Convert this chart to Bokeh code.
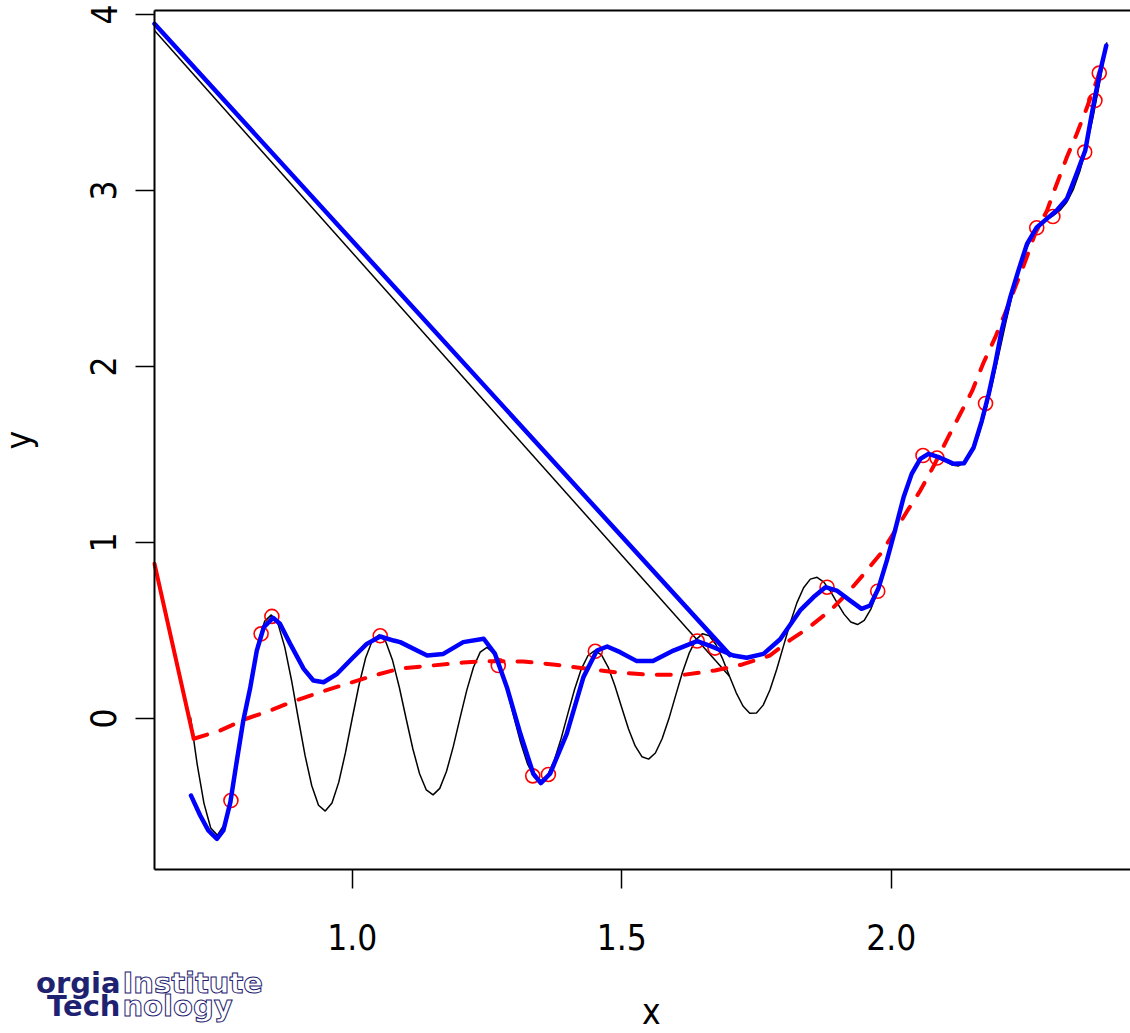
from bokeh.plotting import figure
from bokeh.models import FixedTicker, Label, LinearAxis
from bokeh.embed import file_html
from bokeh.resources import INLINE
import math

# ---------------- data ----------------
x_ticks = [1.0, 1.5, 2.0]
x_tick_labels = ["1.0", "1.5", "2.0"]
y_ticks = [0, 1, 2, 3, 4]
y_tick_labels = ["0", "1", "2", "3", "4"]

# true function (thin black curve)
black_x = [
    0.7000, 0.7125, 0.7250, 0.7375, 0.7500, 0.7625, 0.7750, 0.7875,
    0.8000, 0.8125, 0.8250, 0.8375, 0.8500, 0.8625, 0.8750, 0.8875,
    0.9000, 0.9125, 0.9250, 0.9375, 0.9500, 0.9625, 0.9750, 0.9875,
    1.0000, 1.0125, 1.0250, 1.0375, 1.0500, 1.0625, 1.0750, 1.0875,
    1.1000, 1.1125, 1.1250, 1.1375, 1.1500, 1.1625, 1.1750, 1.1875,
    1.2000, 1.2125, 1.2250, 1.2375, 1.2500, 1.2625, 1.2750, 1.2875,
    1.3000, 1.3125, 1.3250, 1.3375, 1.3500, 1.3625, 1.3750, 1.3875,
    1.4000, 1.4125, 1.4250, 1.4375, 1.4500, 1.4625, 1.4750, 1.4875,
    1.5000, 1.5125, 1.5250, 1.5375, 1.5500, 1.5625, 1.5750, 1.5875,
    1.6000, 1.6125, 1.6250, 1.6375, 1.6500, 1.6625, 1.6750, 1.6875,
    1.7000, 1.7125, 1.7250, 1.7375, 1.7500, 1.7625, 1.7750, 1.7875,
    1.8000, 1.8125, 1.8250, 1.8375, 1.8500, 1.8625, 1.8750, 1.8875,
    1.9000, 1.9125, 1.9250, 1.9375, 1.9500, 1.9625, 1.9750, 1.9875,
    2.0000, 2.0125, 2.0250, 2.0375, 2.0500, 2.0625, 2.0750, 2.0875,
    2.1000, 2.1125, 2.1250, 2.1375, 2.1500, 2.1625, 2.1750, 2.1875,
    2.2000, 2.2125, 2.2250, 2.2375, 2.2500, 2.2625, 2.2750, 2.2875,
    2.3000, 2.3125, 2.3250, 2.3375, 2.3500, 2.3625, 2.3750, 2.3875,
    2.4000,
]
black_y = [
    0.008, -0.262, -0.482, -0.622, -0.663, -0.603, -0.454, -0.241,
    0.002, 0.237, 0.429, 0.552, 0.589, 0.536, 0.404, 0.216,
    0.000, -0.210, -0.382, -0.493, -0.526, -0.480, -0.363, -0.194,
    0.000, 0.189, 0.345, 0.445, 0.476, 0.435, 0.329, 0.176,
    0.000, -0.172, -0.314, -0.406, -0.434, -0.397, -0.300, -0.160,
    0.002, 0.160, 0.291, 0.377, 0.404, 0.371, 0.283, 0.156,
    0.008, -0.136, -0.256, -0.332, -0.355, -0.322, -0.237, -0.115,
    0.026, 0.165, 0.281, 0.358, 0.386, 0.362, 0.291, 0.185,
    0.063, -0.058, -0.156, -0.217, -0.231, -0.196, -0.115, -0.002,
    0.130, 0.260, 0.370, 0.447, 0.482, 0.470, 0.419, 0.337,
    0.240, 0.146, 0.071, 0.030, 0.031, 0.076, 0.162, 0.278,
    0.410, 0.541, 0.657, 0.743, 0.792, 0.802, 0.775, 0.722,
    0.656, 0.593, 0.548, 0.534, 0.558, 0.623, 0.725, 0.855,
    1.000, 1.146, 1.278, 1.385, 1.459, 1.498, 1.506, 1.490,
    1.464, 1.441, 1.435, 1.458, 1.516, 1.613, 1.744, 1.901,
    2.074, 2.248, 2.411, 2.552, 2.664, 2.745, 2.798, 2.832,
    2.856, 2.885, 2.930, 3.003, 3.109, 3.251, 3.426, 3.626,
    3.842,
]
# stray straight segments
black_jump_x = [0.6332, 1.700]
black_jump_y = [3.909, 0.240]
blue_jump_x = [0.6332, 1.701]
blue_jump_y = [3.947, 0.360]
red_solid_x = [0.6332, 0.706]
red_solid_y = [0.879, -0.115]

# design points (red circles)
pts_x = [0.775, 0.831, 0.851, 1.052, 1.271, 1.335, 1.364, 1.451, 1.640, 1.673,
         1.881, 1.975, 2.059, 2.085, 2.175, 2.270, 2.300, 2.359, 2.378, 2.386]
pts_y = [-0.466, 0.481, 0.580, 0.470, 0.301, -0.326, -0.318, 0.382, 0.440, 0.400,
         0.746, 0.723, 1.494, 1.480, 1.790, 2.788, 2.852, 3.218, 3.511, 3.667]

# red dashed predictor
red_x = [0.706, 0.755, 0.805, 0.848, 0.891, 0.941, 0.990, 1.040, 1.089, 1.145,
         1.206, 1.250, 1.317, 1.377, 1.432, 1.490, 1.553, 1.614, 1.673, 1.724,
         1.775, 1.813, 1.844, 1.887, 1.918, 1.949, 1.980, 2.004, 2.030, 2.054,
         2.078, 2.106, 2.128, 2.150, 2.171, 2.193, 2.211, 2.230, 2.249, 2.267,
         2.289, 2.305, 2.326, 2.344, 2.363, 2.382, 2.388]
red_y = [-0.115, -0.068, 0.000, 0.045, 0.098, 0.150, 0.197, 0.244, 0.284, 0.300,
         0.318, 0.326, 0.324, 0.306, 0.284, 0.262, 0.248, 0.248, 0.273, 0.307,
         0.358, 0.447, 0.510, 0.614, 0.710, 0.820, 0.935, 1.050, 1.180, 1.295,
         1.430, 1.600, 1.730, 1.860, 2.020, 2.165, 2.300, 2.450, 2.600, 2.755,
         2.886, 3.020, 3.190, 3.320, 3.470, 3.630, 3.690]

# blue predictor
blue_x = [0.701, 0.718, 0.733, 0.749, 0.761, 0.774, 0.786, 0.798, 0.811, 0.823,
          0.836, 0.853, 0.866, 0.885, 0.910, 0.928, 0.947, 0.972, 1.002, 1.027,
          1.052, 1.077, 1.089, 1.139, 1.169, 1.206, 1.244, 1.265, 1.287, 1.312,
          1.336, 1.350, 1.367, 1.398, 1.429, 1.454, 1.473, 1.497, 1.528, 1.558,
          1.596, 1.640, 1.670, 1.707, 1.732, 1.763, 1.794, 1.831, 1.856, 1.878,
          1.899, 1.924, 1.945, 1.961, 1.976, 1.992, 2.007, 2.023, 2.038, 2.054,
          2.069, 2.088, 2.116, 2.135, 2.153, 2.168, 2.181, 2.193, 2.205, 2.221,
          2.236, 2.252, 2.270, 2.289, 2.307, 2.326, 2.344, 2.360, 2.370, 2.378,
          2.388, 2.399]
blue_y = [-0.438, -0.551, -0.636, -0.684, -0.636, -0.475, -0.239, -0.011, 0.178, 0.386,
          0.519, 0.572, 0.538, 0.424, 0.282, 0.216, 0.206, 0.254, 0.348, 0.424,
          0.466, 0.443, 0.434, 0.358, 0.367, 0.434, 0.453, 0.367, 0.178, -0.087,
          -0.314, -0.367, -0.314, -0.087, 0.235, 0.386, 0.409, 0.377, 0.326, 0.326,
          0.386, 0.440, 0.405, 0.358, 0.345, 0.367, 0.450, 0.614, 0.690, 0.746,
          0.727, 0.670, 0.623, 0.642, 0.737, 0.898, 1.068, 1.257, 1.390, 1.475,
          1.504, 1.485, 1.447, 1.450, 1.540, 1.690, 1.845, 2.015, 2.205, 2.394,
          2.545, 2.697, 2.790, 2.840, 2.886, 2.953, 3.095, 3.227, 3.398, 3.530,
          3.680, 3.824]

# ---------------- figure ----------------
# the frame fills the whole canvas; the plot box is drawn by axes fixed in place
X0, X1 = 0.3475, 2.44397
Y0, Y1 = -1.78977, 4.07955
BOX_LEFT, BOX_BOTTOM, BOX_TOP = 0.6332, -0.858, 4.0227
FONT = "'Liberation Sans Narrow', 'DejaVu Sans Condensed', 'Liberation Sans', sans-serif"

p = figure(width=1130, height=1033, x_range=(X0, X1), y_range=(Y0, Y1),
           output_backend="svg", toolbar_location=None,
           x_axis_location=None, y_axis_location=None,
           min_border=0, min_border_left=0, min_border_right=0,
           min_border_top=0, min_border_bottom=0)
p.outline_line_color = None
p.background_fill_color = "white"
p.border_fill_color = "white"
p.grid.visible = False


def style_axis(ax):
    ax.axis_line_color = "black"
    ax.axis_line_width = 2
    ax.major_tick_line_color = "black"
    ax.major_tick_line_width = 1.5
    ax.major_tick_out = 19
    ax.major_tick_in = 0
    ax.minor_tick_line_color = None
    ax.major_label_text_font = FONT
    ax.major_label_text_font_size = "35px"
    ax.major_label_text_color = "black"


xaxis = LinearAxis(fixed_location=BOX_BOTTOM, bounds=(BOX_LEFT, X1),
                   ticker=FixedTicker(ticks=x_ticks),
                   major_label_overrides={t: s for t, s in zip(x_ticks, x_tick_labels)})
style_axis(xaxis)
xaxis.major_label_standoff = 35
p.add_layout(xaxis, "below")

yaxis = LinearAxis(fixed_location=BOX_LEFT, bounds=(BOX_BOTTOM, BOX_TOP),
                   ticker=FixedTicker(ticks=y_ticks),
                   major_label_overrides={t: s for t, s in zip(y_ticks, y_tick_labels)})
style_axis(yaxis)
yaxis.major_label_orientation = "vertical"
yaxis.major_label_standoff = 19
p.add_layout(yaxis, "left")

topaxis = LinearAxis(fixed_location=BOX_TOP, bounds=(BOX_LEFT, X1),
                     ticker=FixedTicker(ticks=[]))
style_axis(topaxis)
topaxis.major_tick_line_color = None
topaxis.major_label_text_font_size = "0px"
p.add_layout(topaxis, "above")

# ---------------- marks ----------------
p.line(black_x, black_y, line_color="black", line_width=1.5)
p.line(black_jump_x, black_jump_y, line_color="black", line_width=1.5)
p.scatter(pts_x, pts_y, marker="circle", size=14, fill_color=None,
          line_color="red", line_width=1.6)
p.line(red_solid_x, red_solid_y, line_color="red", line_width=4, line_cap="round")
p.line(red_x, red_y, line_color="red", line_width=4, line_dash="14 14",
       line_cap="round", line_join="round")
p.line(blue_x, blue_y, line_color="blue", line_width=4.5, line_cap="round", line_join="round")
p.line(blue_jump_x, blue_jump_y, line_color="blue", line_width=4.5, line_cap="round")

# ---------------- axis titles ----------------
p.add_layout(Label(x=1.555, y=-1.665, text="x", text_font=FONT, text_font_size="35px",
                   text_align="center", text_baseline="middle", text_color="black"))
p.add_layout(Label(x=0.3809, y=1.582, text="y", text_font=FONT, text_font_size="35px",
                   angle=math.pi / 2, text_align="center", text_baseline="middle",
                   text_color="black"))

# ---------------- logo (cropped at the left edge) ----------------
NAVY = "#1e2270"
LOGO_FONT = "'DejaVu Sans', 'Liberation Sans', sans-serif"
JOIN_L, JOIN_R = 0.5701, 0.5738
p.add_layout(Label(x=JOIN_L, y=-1.50, text="orgia", text_font=LOGO_FONT, text_font_size="29px",
                   text_font_style="bold", text_color=NAVY, text_align="right",
                   text_baseline="alphabetic"))
p.add_layout(Label(x=JOIN_R, y=-1.50, text="Institute", text_font=LOGO_FONT, text_font_size="29px",
                   text_font_style="bold", text_color="white", text_outline_color=NAVY,
                   text_align="left", text_baseline="alphabetic"))
p.add_layout(Label(x=JOIN_L, y=-1.631, text="Tech", text_font=LOGO_FONT, text_font_size="29px",
                   text_font_style="bold", text_color=NAVY, text_align="right",
                   text_baseline="alphabetic"))
p.add_layout(Label(x=JOIN_R, y=-1.631, text="nology", text_font=LOGO_FONT, text_font_size="29px",
                   text_font_style="bold", text_color="white", text_outline_color=NAVY,
                   text_align="left", text_baseline="alphabetic"))

open("out.html", "w").write(file_html(p, INLINE))
